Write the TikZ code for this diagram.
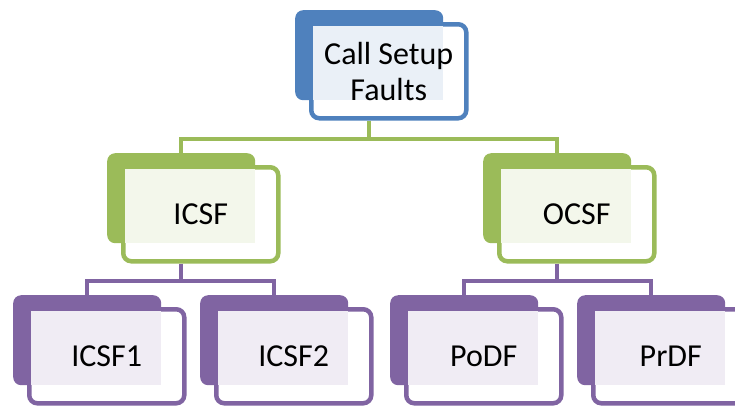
\documentclass[tikz,border=0pt]{standalone}
\usepackage{fontspec}
\setmainfont{Carlito}
\usetikzlibrary{calc}
\definecolor{cblue}{HTML}{4F81BD}
\definecolor{cgreen}{HTML}{9BBB59}
\definecolor{cpurple}{HTML}{8064A2}
\tikzset{
  backbox/.style={rectangle, rounded corners=8pt, minimum width=148pt, minimum height=90pt, inner sep=0pt, anchor=north west},
  frontbox/.style={rectangle, rounded corners=8pt, minimum width=155pt, minimum height=94pt, inner sep=0pt, anchor=north west, fill=white, line width=4.5pt},
  lbl/.style={font=\fontsize{32}{36}\selectfont, align=center, text=black},
  conn/.style={line width=4pt}
}
\newcommand\orgbox[4]{%
  \node[backbox, fill=#3] (#1B) at (#2) {};
  \node[frontbox, draw=#3] (#1) at ($(#1B.north west)+(14,12)$) {};
  \fill[#3!12] ($(#1.north west)+(4,4)$) rectangle (#1B.south east);
  \node[lbl] (#1T) at (#1.center) {#4};
}
\begin{document}
\begin{tikzpicture}[x=1pt,y=-1pt]
\useasboundingbox (0,0) rectangle (735,405);
\orgbox{top}{295,10}{cblue}{Call Setup\\Faults}
\orgbox{icsf}{107,153}{cgreen}{ICSF}
\orgbox{ocsf}{483,153}{cgreen}{OCSF}
\orgbox{a}{13,295}{cpurple}{ICSF1}
\orgbox{b}{200,295}{cpurple}{ICSF2}
\orgbox{c}{390,295}{cpurple}{PoDF}
\orgbox{d}{577,295}{cpurple}{PrDF}
\coordinate (j1) at ($(topB.south |- top.south)+(0,18)$);
\draw[conn, cgreen] (topB.south |- top.south) -- (j1);
\draw[conn, cgreen] (j1) -| (icsfB.north);
\draw[conn, cgreen] (j1) -| (ocsfB.north);
\coordinate (j2) at ($(icsfB.south |- icsf.south)+(0,17)$);
\draw[conn, cpurple] (icsfB.south |- icsf.south) -- (j2);
\draw[conn, cpurple] (j2) -| (aB.north);
\draw[conn, cpurple] (j2) -| (bB.north);
\coordinate (j3) at ($(ocsfB.south |- ocsf.south)+(0,17)$);
\draw[conn, cpurple] (ocsfB.south |- ocsf.south) -- (j3);
\draw[conn, cpurple] (j3) -| (cB.north);
\draw[conn, cpurple] (j3) -| (dB.north);
\end{tikzpicture}
\end{document}
